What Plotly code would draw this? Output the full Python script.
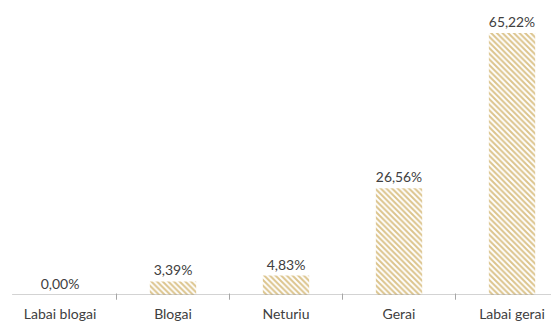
import plotly.graph_objects as go

categories = ["Labai blogai", "Blogai", "Neturiu", "Gerai", "Labai gerai"]
shares = [0.00, 3.39, 4.83, 26.56, 65.22]
labels = ["0,00%", "3,39%", "4,83%", "26,56%", "65,22%"]

FONT = "Lato, 'Open Sans', sans-serif"
TEXT = "#404040"
BAR = "#dcc48c"
AXIS = "#a6a6a6"

fig = go.Figure(
    go.Bar(
        x=list(range(len(categories))),
        y=shares,
        text=labels,
        textposition="outside",
        textfont=dict(family=FONT, size=14, color=TEXT),
        cliponaxis=False,
        width=0.41,
        marker=dict(
            color="white",
            line=dict(width=0),
            pattern=dict(shape="\\", fgcolor=BAR, bgcolor="white",
                         size=4, solidity=0.5, fillmode="replace"),
        ),
    )
)

# category axis baseline and boundary ticks
fig.add_shape(type="line", xref="paper", yref="y", x0=0.022, x1=1, y0=0, y1=0,
              line=dict(color=AXIS, width=1))
for b in [0.5, 1.5, 2.5, 3.5]:
    fig.add_shape(type="line", xref="x", yref="paper", x0=b, x1=b, y0=0.005, y1=-0.016,
                  line=dict(color=AXIS, width=1))

fig.update_layout(
    width=551, height=325,
    margin=dict(l=0, r=0, t=0, b=30),
    paper_bgcolor="white", plot_bgcolor="white",
    showlegend=False,
    font=dict(family=FONT, color=TEXT),
    xaxis=dict(
        range=[-0.531, 4.345],
        tickmode="array",
        tickvals=list(range(len(categories))),
        ticktext=categories,
        tickfont=dict(family=FONT, size=14, color=TEXT),
        showgrid=False, zeroline=False, showline=False, ticks="",
        ticklabelstandoff=9,
    ),
    yaxis=dict(range=[0, 73.44], visible=False),
)

fig.write_html("out.html")
